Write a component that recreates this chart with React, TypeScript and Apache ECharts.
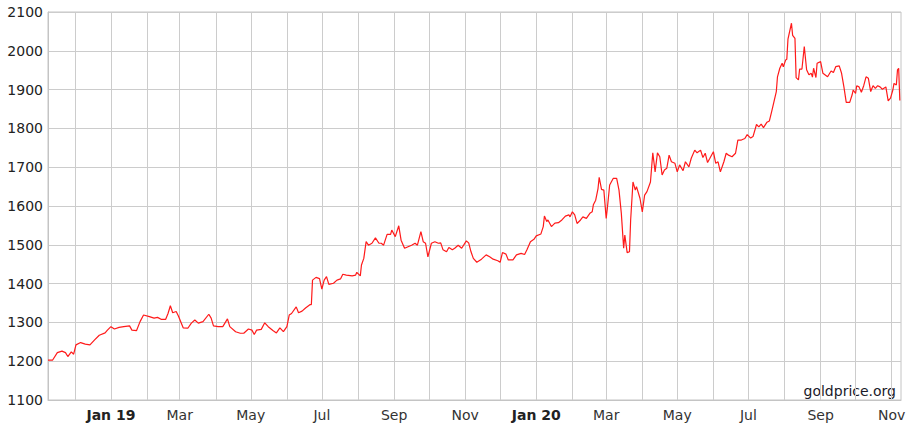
import React, { useEffect, useRef } from "react";
import * as echarts from "echarts";

const START_DATE = "2018-11-08";
const END_DATE = "2020-11-09";

// [days after START_DATE, USD per oz]
const priceByDay: [number, number][] = [
  [0, 1203], [4, 1203], [8, 1222], [12, 1226], [15, 1222], [17, 1212], [20, 1224], [22, 1218], [24, 1242], [28, 1248],
  [32, 1244], [36, 1242], [40, 1255], [44, 1267], [49, 1273], [51, 1280], [54, 1289], [57, 1283], [61, 1287], [65, 1289],
  [70, 1291], [72, 1280], [76, 1279], [79, 1302], [82, 1319], [87, 1315], [91, 1311], [94, 1313], [97, 1308], [101, 1308],
  [103, 1323], [105, 1343], [107, 1325], [110, 1328], [112, 1316], [116, 1286], [120, 1285], [123, 1298], [126, 1306], [129, 1298],
  [133, 1302], [138, 1321], [140, 1311], [142, 1291], [146, 1289], [150, 1289], [154, 1309], [156, 1289], [161, 1276], [165, 1272],
  [168, 1272], [172, 1283], [175, 1280], [177, 1269], [179, 1280], [183, 1282], [186, 1299], [189, 1289], [193, 1279], [196, 1273],
  [199, 1286], [202, 1276], [205, 1289], [207, 1319], [209, 1323], [213, 1340], [215, 1325], [218, 1329], [221, 1337], [225, 1346],
  [226, 1346], [227, 1409], [230, 1416], [233, 1413], [235, 1386], [237, 1409], [239, 1418], [241, 1398], [245, 1401], [248, 1409],
  [251, 1412], [253, 1424], [256, 1422], [261, 1420], [264, 1422], [265, 1429], [268, 1420], [269, 1448], [271, 1465], [273, 1508],
  [275, 1499], [278, 1504], [281, 1518], [284, 1504], [286, 1504], [288, 1499], [291, 1527], [294, 1527], [295, 1538], [298, 1521],
  [301, 1549], [303, 1512], [306, 1491], [309, 1495], [312, 1499], [315, 1504], [317, 1499], [320, 1534], [322, 1508], [324, 1504],
  [326, 1469], [329, 1504], [332, 1508], [335, 1504], [337, 1505], [339, 1487], [342, 1482], [344, 1493], [347, 1487], [349, 1491],
  [352, 1499], [355, 1491], [359, 1510], [361, 1505], [363, 1482], [365, 1465], [368, 1455], [372, 1463], [376, 1474], [379, 1469],
  [382, 1463], [386, 1459], [388, 1455], [390, 1480], [393, 1476], [395, 1461], [399, 1461], [402, 1474], [406, 1478], [409, 1475],
  [411, 1487], [414, 1508], [417, 1514], [419, 1523], [423, 1528], [425, 1547], [426, 1574], [428, 1560], [429, 1564], [432, 1547],
  [435, 1556], [438, 1557], [441, 1564], [444, 1574], [447, 1577], [448, 1572], [450, 1585], [452, 1577], [454, 1555], [457, 1564],
  [459, 1572], [462, 1568], [465, 1581], [467, 1585], [468, 1603], [470, 1615], [472, 1645], [473, 1674], [475, 1643], [477, 1641],
  [479, 1568], [480, 1594], [482, 1654], [485, 1671], [488, 1671], [490, 1641], [492, 1581], [494, 1491], [495, 1525], [497, 1480],
  [499, 1482], [500, 1564], [502, 1662], [504, 1641], [505, 1650], [508, 1620], [510, 1585], [512, 1628], [514, 1637], [517, 1662],
  [519, 1737], [521, 1688], [523, 1737], [525, 1727], [527, 1680], [529, 1693], [531, 1697], [533, 1731], [535, 1714], [538, 1710],
  [540, 1688], [542, 1706], [545, 1691], [547, 1714], [550, 1701], [552, 1723], [555, 1744], [557, 1737], [560, 1744], [562, 1725],
  [564, 1736], [566, 1712], [568, 1723], [571, 1740], [573, 1710], [575, 1714], [577, 1688], [580, 1714], [582, 1736], [584, 1731],
  [587, 1727], [590, 1736], [592, 1770], [595, 1770], [598, 1774], [600, 1784], [603, 1775], [605, 1779], [608, 1810], [610, 1804],
  [612, 1811], [614, 1802], [617, 1816], [619, 1819], [621, 1843], [623, 1869], [625, 1895], [626, 1933], [628, 1955], [630, 1968],
  [631, 1959], [633, 1976], [634, 1978], [635, 2030], [638, 2071], [639, 2040], [641, 2032], [642, 1931], [644, 1925], [645, 1953],
  [647, 1953], [649, 2011], [651, 1951], [653, 1938], [655, 1942], [656, 1932], [657, 1955], [659, 1931], [660, 1968], [663, 1972],
  [665, 1942], [669, 1933], [672, 1948], [674, 1944], [676, 1959], [679, 1961], [681, 1942], [683, 1907], [685, 1867], [688, 1867],
  [690, 1886], [691, 1899], [693, 1890], [694, 1910], [696, 1907], [698, 1893], [700, 1910], [702, 1933], [704, 1929], [706, 1895],
  [708, 1910], [710, 1903], [712, 1910], [714, 1907], [716, 1901], [719, 1907], [721, 1871], [723, 1878], [725, 1899], [726, 1916],
  [728, 1912], [729, 1951], [730, 1955], [731, 1872],
];

const monthGridDates = [
  "2018-12-01", "2019-01-01", "2019-02-01", "2019-03-01", "2019-04-01", "2019-05-01", "2019-06-01", "2019-07-01",
  "2019-08-01", "2019-09-01", "2019-10-01", "2019-11-01", "2019-12-01", "2020-01-01", "2020-02-01", "2020-03-01",
  "2020-04-01", "2020-05-01", "2020-06-01", "2020-07-01", "2020-08-01", "2020-09-01", "2020-10-01", "2020-11-01",
];
const labelDates = [
  "2019-01-01", "2019-03-01", "2019-05-01", "2019-07-01", "2019-09-01", "2019-11-01",
  "2020-01-01", "2020-03-01", "2020-05-01", "2020-07-01", "2020-09-01", "2020-11-01",
];
const labelTexts = ["Jan 19", "Mar", "May", "Jul", "Sep", "Nov", "Jan 20", "Mar", "May", "Jul", "Sep", "Nov"];

const yMin = 1100;
const yMax = 2100;
const yStep = 100;

const DAY = 86400000;
const ts = (s: string) => Date.parse(s + "T00:00:00Z");

export default function App() {
  const ref = useRef<HTMLDivElement>(null);
  useEffect(() => {
    if (!ref.current) return;
    const chart = echarts.init(ref.current, null, { renderer: "svg" });
    const start = ts(START_DATE);
    const labelTs = labelDates.map(ts);
    const font = "DejaVu Sans, Verdana, sans-serif";
    chart.setOption({
      animation: false,
      grid: {
        left: 48, right: 17, top: 12, bottom: 42,
        show: true, borderColor: "#c4c4c4", borderWidth: 1,
      },
      xAxis: {
        type: "value",
        min: start,
        max: ts(END_DATE),
        axisLine: { show: true, lineStyle: { color: "#c4c4c4", width: 1 } },
        axisTick: { show: false, customValues: monthGridDates.map(ts) },
        splitLine: { show: true, lineStyle: { color: "#cccccc", width: 1 } },
        axisLabel: {
          customValues: labelTs,
          margin: 8,
          color: "#333",
          fontSize: 14,
          fontFamily: font,
          formatter: (v: number) => {
            let idx = 0;
            let best = Infinity;
            labelTs.forEach((t, i) => {
              const d = Math.abs(t - v);
              if (d < best) { best = d; idx = i; }
            });
            const t = labelTexts[idx];
            return t.startsWith("Jan") ? `{b|${t}}` : t;
          },
          rich: { b: { fontWeight: "bold", fontSize: 14, fontFamily: font, color: "#222" } },
        },
      },
      yAxis: {
        type: "value",
        min: yMin,
        max: yMax,
        interval: yStep,
        axisLine: { show: true, lineStyle: { color: "#c4c4c4", width: 1 } },
        axisTick: { show: false },
        splitLine: { show: true, lineStyle: { color: "#cccccc", width: 1 } },
        axisLabel: {
          margin: 5, color: "#222", fontSize: 14, fontFamily: font,
          formatter: (v: number) => String(v),
        },
      },
      graphic: [
        {
          type: "text",
          right: 22,
          bottom: 44,
          style: { text: "goldprice.org", fill: "#1a1a2a", fontSize: 14, fontFamily: font },
        },
      ],
      series: [
        {
          type: "line",
          data: priceByDay.map(([d, p]) => [start + d * DAY, p]),
          showSymbol: false,
          symbol: "none",
          lineStyle: { color: "#ff1a1a", width: 1.2 },
          z: 5,
        },
      ],
    });
    return () => chart.dispose();
  }, []);
  return <div ref={ref} style={{ width: 918, height: 442, position: "absolute", left: 0, top: 0 }} />;
}
